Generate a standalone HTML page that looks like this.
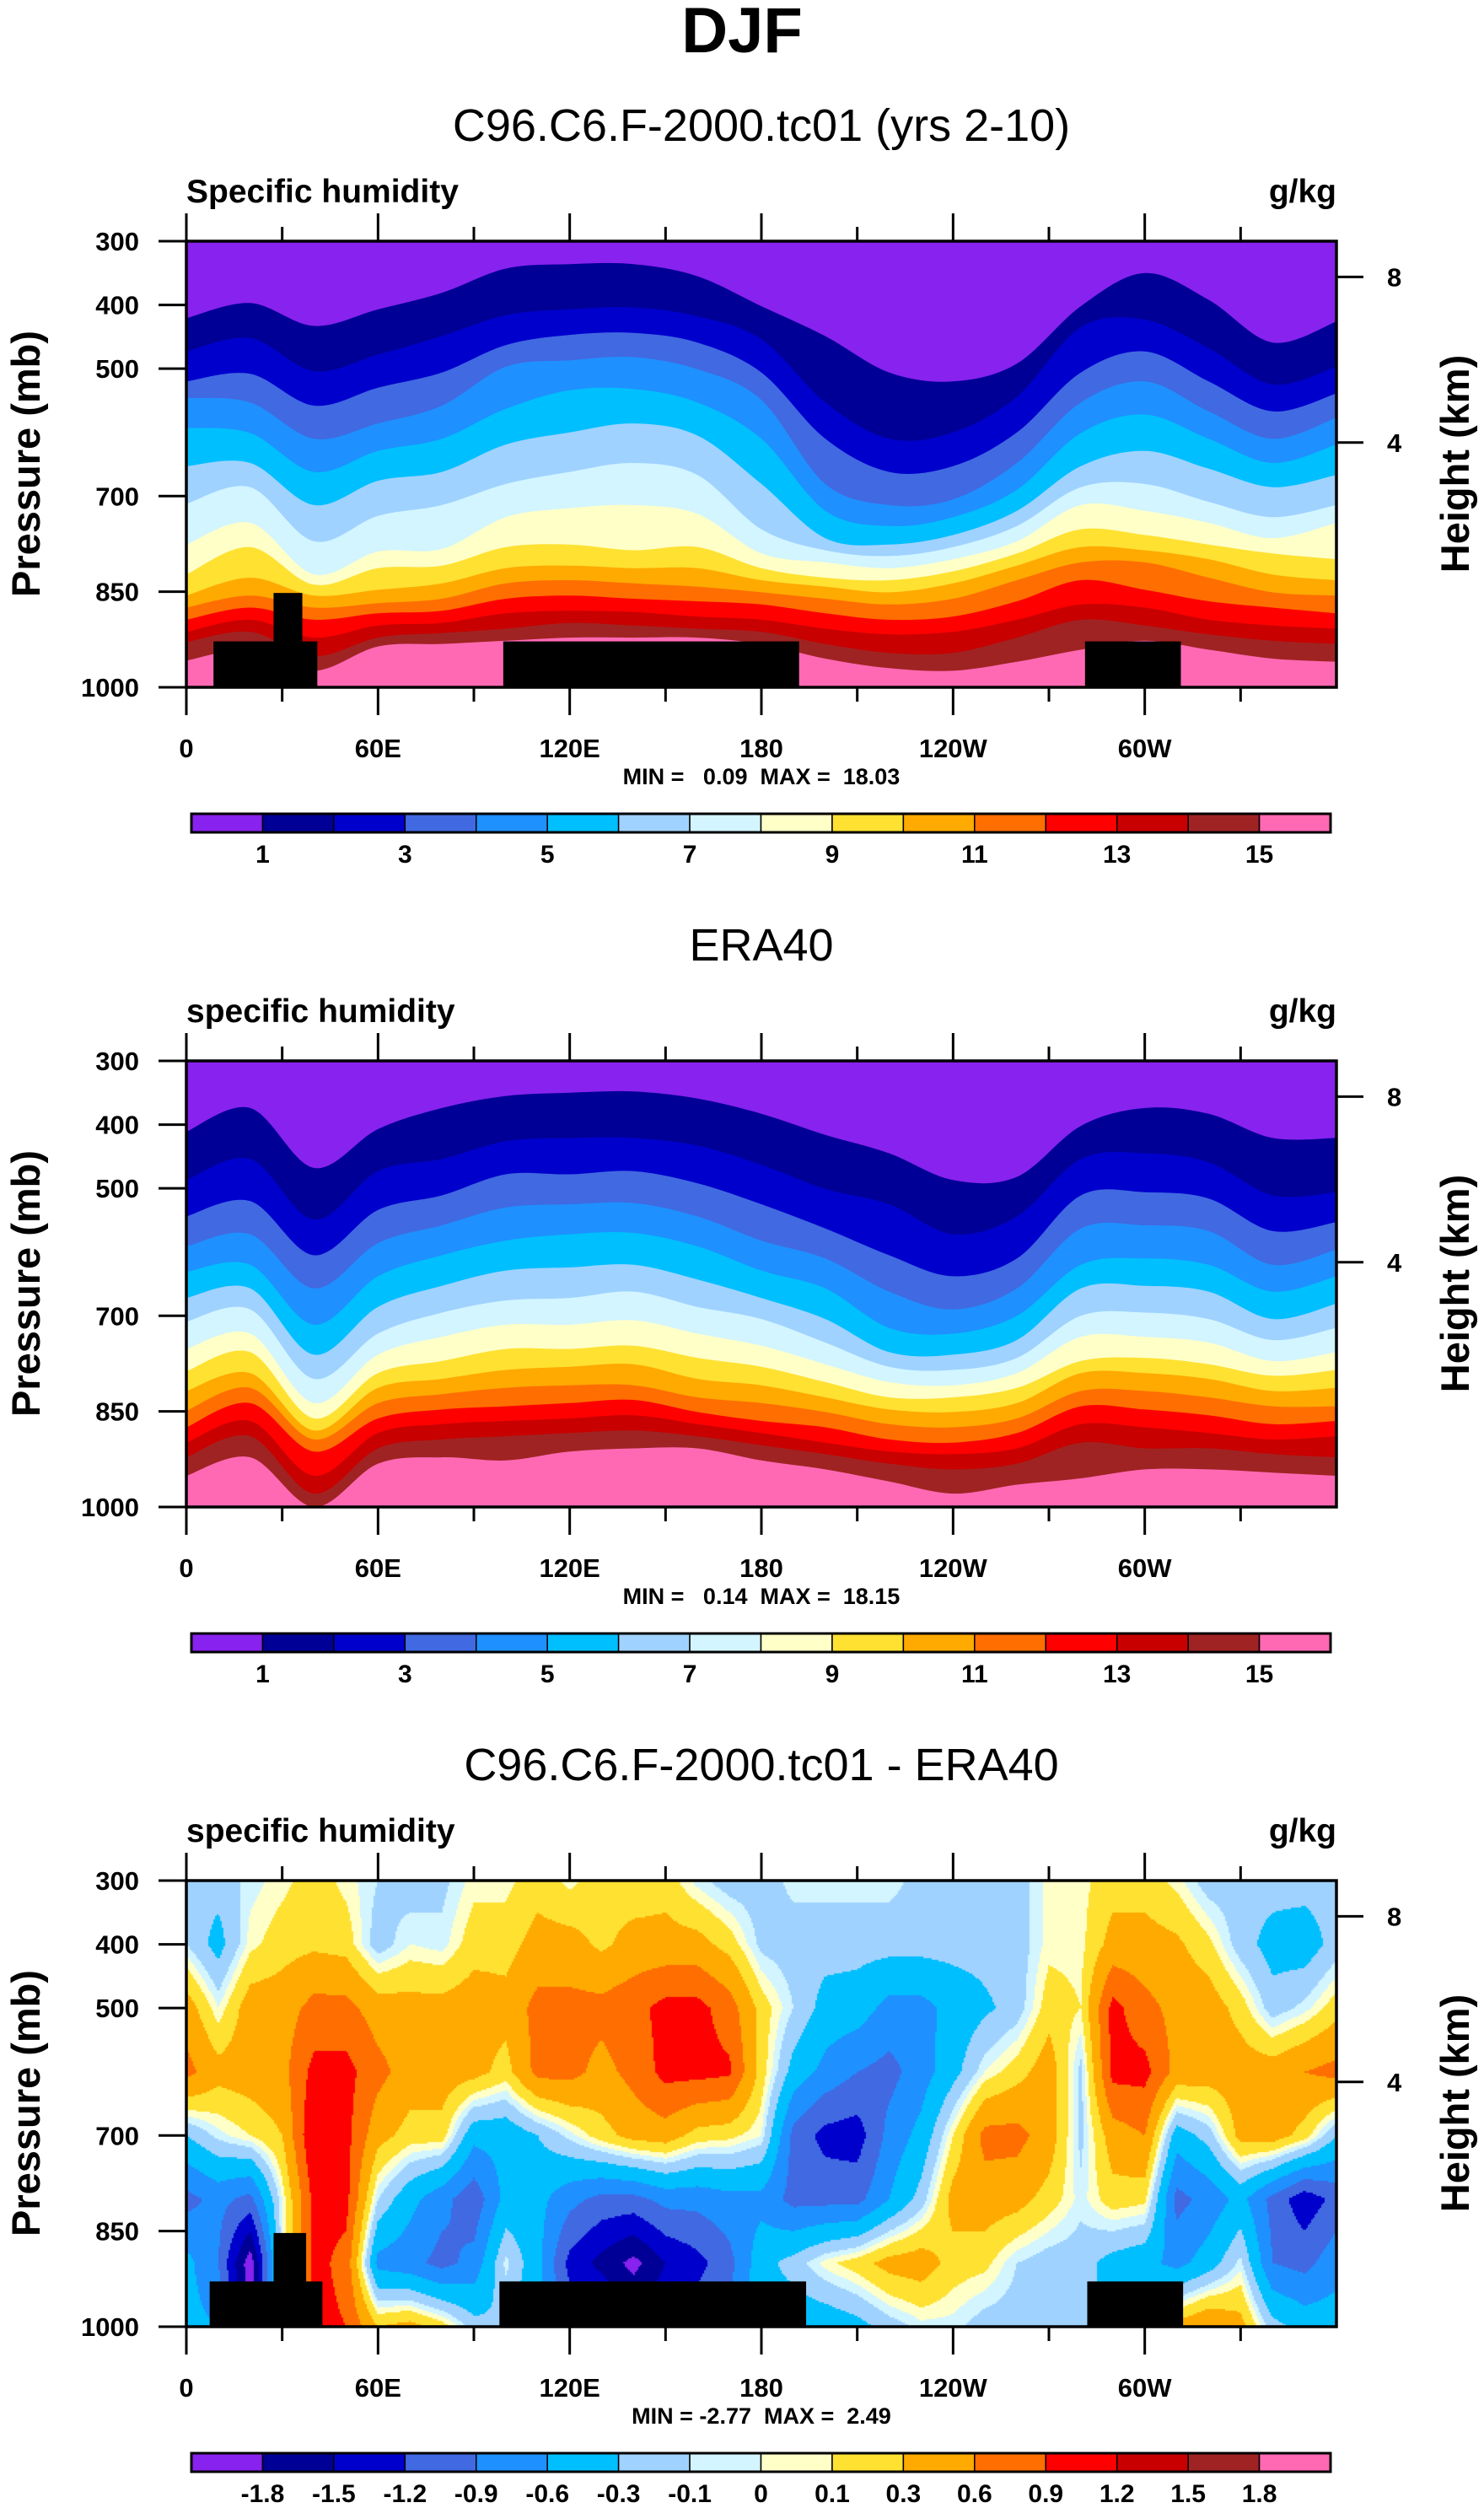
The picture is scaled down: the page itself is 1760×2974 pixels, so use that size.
<!DOCTYPE html>
<html><head><meta charset="utf-8"><title>DJF specific humidity</title>
<style>
html,body{margin:0;padding:0;background:#fff;}
#wrap{position:relative;width:1760px;height:2974px;overflow:hidden;font-family:"Liberation Sans",Arial,sans-serif;}
#diffCanvas{position:absolute;left:221px;top:2230px;}
#main{position:absolute;left:0;top:0;}
text{font-family:"Liberation Sans",Arial,sans-serif;white-space:pre;}
</style></head>
<body>
<div id="wrap">
<canvas id="diffCanvas" width="1364" height="529"></canvas>
<svg id="main" width="1760" height="2974" xmlns="http://www.w3.org/2000/svg">
<text x="880" y="62" font-size="76" font-weight="bold" text-anchor="middle">DJF</text>
</svg>
</div>
<script>
// ---------- shared data ----------
const lons = [0,20,40,60,80,100,120,140,160,180,200,220,240,260,280,300,320,340,360];
const qLevels = [1,2,3,4,5,6,7,8,9,10,11,12,13,14,15];
const qTickLabels = ["1","3","5","7","9","11","13","15"];
const diffLevels = [-1.8,-1.5,-1.2,-0.9,-0.6,-0.3,-0.1,0,0.1,0.3,0.6,0.9,1.2,1.5,1.8];
const diffTickLabels = ["-1.8","-1.5","-1.2","-0.9","-0.6","-0.3","-0.1","0","0.1","0.3","0.6","0.9","1.2","1.5","1.8"];
const xTickLons = [0,60,120,180,240,300];
const xTickLabels = ["0","60E","120E","180","120W","60W"];
const pTicks = [300,400,500,700,850,1000];
const pTickLabels = ["300","400","500","700","850","1000"];
const heightTickP = [356,616];
const heightTickLabels = ["8","4"];

// model (C96) pressure (mb) of each q contour 1..15 at each longitude
const ctl000=[421,473,520,546,593,653,712,776,823,856,875,894,913,929,958];
const ctl020=[397,452,508,553,601,648,686,742,780,828,856,875,894,913,941];
const ctl040=[433,504,558,610,662,714,771,823,839,856,875,894,922,951,974];
const ctl060=[407,478,530,586,629,676,731,787,813,847,868,884,903,922,936];
const ctl080=[381,449,506,558,610,662,714,783,809,837,861,880,899,915,932];
const ctl100=[343,416,463,497,563,619,681,733,780,813,837,861,884,908,927];
const ctl120=[336,407,447,487,534,600,662,719,776,809,832,856,880,899,922];
const ctl140=[336,404,444,482,532,586,648,714,785,813,837,861,882,903,922];
const ctl160=[355,418,459,501,553,605,667,728,780,813,842,865,889,908,922];
const ctl180=[402,454,506,549,610,681,752,790,813,832,851,870,894,913,932];
const ctl200=[449,553,610,681,723,766,785,804,828,842,861,884,908,932,955];
const ctl220=[506,610,662,714,747,776,794,813,832,851,870,894,917,946,970];
const ctl240=[520,600,653,705,733,761,780,799,818,837,861,889,913,946,974];
const ctl260=[492,544,600,648,690,723,747,771,790,809,832,865,894,922,960];
const ctl280=[402,435,506,553,601,653,686,714,752,780,804,832,870,894,941];
const ctl300=[350,423,473,520,572,629,681,723,761,785,804,847,875,903,927];
const ctl320=[392,468,520,567,610,657,709,742,776,799,828,865,894,917,941];
const ctl340=[459,525,567,610,648,686,733,766,790,823,851,875,903,927,955];
const ctl360=[426,497,539,577,619,667,714,742,799,832,856,884,908,932,960];

// ERA40 pressure (mb) of each q contour 1..15 at each longitude
const era000=[411,487,544,591,631,672,709,752,787,818,849,875,899,922,951];
const era020=[374,454,520,572,620,657,690,728,757,790,813,837,865,889,922];
const era040=[468,549,605,657,714,761,799,837,861,880,894,913,951,979,1003];
const era060=[407,473,534,586,638,686,728,761,790,813,837,861,884,908,932];
const era080=[374,454,511,558,605,653,695,733,771,799,823,847,870,894,922];
const era100=[355,426,478,530,582,629,676,714,752,785,813,842,865,889,927];
const era120=[350,421,478,525,572,624,672,714,752,780,809,837,861,884,913];
const era140=[348,421,473,523,570,620,662,707,747,776,809,832,856,880,908];
const era160=[359,433,492,544,591,643,686,728,766,799,828,851,870,889,908];
const era180=[383,463,525,582,629,672,705,747,780,809,837,865,884,903,927];
const era200=[416,501,563,610,657,705,742,776,804,828,851,875,899,917,941];
const era220=[445,525,605,662,719,757,780,804,828,847,870,894,913,932,960];
const era240=[487,572,638,690,728,761,785,809,828,851,875,899,917,941,979];
const era260=[482,544,610,657,700,738,766,790,813,837,861,884,908,932,965];
const era280=[402,454,511,563,620,657,700,733,771,790,818,842,870,899,955];
const era300=[374,445,506,558,610,653,695,733,766,790,818,847,875,908,941];
const era320=[383,459,516,567,620,662,705,742,776,799,828,856,884,908,941];
const era340=[421,511,567,620,662,705,738,771,794,818,842,870,894,917,946];
const era360=[421,506,553,596,638,681,719,757,785,813,842,865,889,922,951];

// difference field (g/kg): rows by pressure, columns every 10 deg lon
const diffPress = [300,400,500,600,700,800,900,1000];
const diffLons = [0,10,20,30,40,50,60,70,80,90,100,110,120,130,140,150,160,170,180,190,200,210,220,230,240,250,260,270,280,290,300,310,320,330,340,350,360];
const diff300=[-0.2,-0.2,-0.05,0.05,0.2,0.05,-0.1,-0.2,-0.15,0.05,0.05,0.2,0.05,0.2,0.15,0.2,-0.05,-0.2,-0.2,-0.05,-0.05,-0.05,-0.05,-0.15,-0.2,-0.2,-0.2,0.05,0.05,0.2,0.2,0.05,-0.2,-0.2,-0.2,-0.2,-0.2];
const diff400=[-0.1,-0.4,0.05,0.2,0.25,0.2,-0.2,0.0,-0.05,0.2,0.2,0.4,0.4,0.25,0.4,0.4,0.4,0.2,-0.15,-0.2,-0.2,-0.2,-0.2,-0.2,-0.2,-0.2,-0.2,0.05,0.05,0.4,0.4,0.35,0.15,-0.2,-0.4,-0.45,-0.2];
const diff500=[0.45,0.0,0.45,0.45,0.7,0.7,0.45,0.4,0.4,0.45,0.4,0.7,0.7,0.7,0.8,1.0,1.0,0.75,0.2,-0.1,-0.4,-0.45,-0.7,-0.7,-0.5,-0.35,-0.2,0.2,0.1,1.0,0.7,0.5,0.45,0.2,-0.2,-0.05,0.2];
const diff600=[0.7,0.4,0.45,0.5,1.0,1.0,0.7,0.45,0.45,0.4,0.2,0.7,0.7,0.5,0.7,1.0,1.0,0.95,0.2,-0.4,-0.7,-0.9,-1.0,-0.75,-0.4,0.0,0.2,0.45,-0.15,1.0,1.0,0.5,0.45,0.45,0.45,0.6,0.7];
const diff700=[-0.3,-0.05,0.1,0.3,1.2,1.0,0.4,0.2,0.2,-0.5,-0.5,-0.3,-0.05,0.2,0.4,0.45,0.2,0.15,0.0,-1.0,-1.3,-1.35,-0.8,-0.5,0.1,0.7,0.7,0.45,-0.15,0.45,0.6,-0.45,-0.2,0.4,0.45,0.2,-0.3];
const diff800=[-1.0,-0.8,-1.0,0.0,1.0,1.0,-0.1,-0.5,-0.8,-1.1,-0.5,-0.5,-0.8,-1.0,-1.0,-0.8,-0.8,-0.7,-0.7,-1.0,-1.0,-1.0,-0.6,-0.2,0.4,0.45,0.4,0.2,-0.05,0.2,0.15,-1.0,-0.8,-0.5,-1.0,-1.4,-1.1];
const diff900=[-0.5,-0.9,-2.0,0.0,1.0,0.8,-0.7,-0.8,-1.0,-0.8,-0.05,-0.5,-1.3,-1.6,-1.9,-1.5,-1.3,-1.0,-0.4,-0.2,0.05,0.2,0.4,0.45,0.2,0.15,-0.1,-0.2,-0.2,-0.4,-0.5,-0.7,-0.45,-0.05,-0.9,-1.0,-0.7];
const diff1000=[-0.5,-0.6,-2.0,0.0,1.0,0.9,0.3,0.4,0.2,-0.2,-0.3,-0.5,-1.0,-1.0,-1.4,-1.2,-1.0,-0.8,-0.4,-0.5,-0.5,-0.4,-0.2,-0.05,-0.05,-0.2,-0.2,-0.2,-0.2,-0.4,-0.3,0.4,0.6,0.4,-0.2,-0.4,-0.45];

// topography masks: [lonStart, lonEnd, topPressure]
const topoModel = [[8.5,41,928],[27.3,36.3,852],[99.2,191.8,928],[281.3,311.3,928]];
const topoDiff = [[7.3,42.6,929],[27.3,37.5,853],[98,194,929],[282,312,929]];

// ---------- styling / geometry ----------
const colors16 = ["#8822ee","#000096","#0000cd","#4169e1","#1e90ff","#00bfff","#a0d2ff","#d2f5ff","#ffffc8","#ffe132","#ffaa00","#ff6e00","#ff0000","#c80000","#a02323","#ff69b4"];
const PL=221, PR=1585, PH=529;
const panelTops=[286,1258,2230];
function xS(lon){return PL+lon*(PR-PL)/360;}
function yS(p,T){return T+(p-300)*PH/700;}
const svg=document.getElementById('main');
const NS="http://www.w3.org/2000/svg";
function el(tag){const e=document.createElementNS(NS,tag);svg.appendChild(e);return e;}
function txt(s,x,y,size,anchor,weight){const t=el('text');t.setAttribute('x',x);t.setAttribute('y',y);t.setAttribute('font-size',size);t.setAttribute('text-anchor',anchor||'start');t.setAttribute('font-weight',weight||'bold');t.textContent=s;return t;}

function smoothPath(pts){
  let d='';
  for(let i=0;i<pts.length-1;i++){
    const p0=pts[Math.max(0,i-1)],p1=pts[i],p2=pts[i+1],p3=pts[Math.min(pts.length-1,i+2)];
    const c1x=p1[0]+(p2[0]-p0[0])/6,c1y=p1[1]+(p2[1]-p0[1])/6;
    const c2x=p2[0]-(p3[0]-p1[0])/6,c2y=p2[1]-(p3[1]-p1[1])/6;
    d+=' C'+c1x.toFixed(1)+','+c1y.toFixed(1)+' '+c2x.toFixed(1)+','+c2y.toFixed(1)+' '+p2[0].toFixed(1)+','+p2[1].toFixed(1);
  }
  return d;
}

function drawContourPanel(T,profiles,prefix){
  const bg=el('rect');
  
  
  bg.setAttribute('x',PL);bg.setAttribute('y',T);bg.setAttribute('width',PR-PL);bg.setAttribute('height',PH);bg.setAttribute('fill',colors16[15]);
  for(let k=qLevels.length-1;k>=0;k--){
    const pts=lons.map((lon,i)=>[xS(lon),yS(Math.min(1000,profiles[i][k]),T)]);
    let d='M'+xS(0)+','+yS(300,T)+' L'+pts[0][0].toFixed(1)+','+pts[0][1].toFixed(1);
    d+=smoothPath(pts);
    d+=' L'+xS(360)+','+yS(300,T)+' Z';
    const path=el('path');
    
    
    path.setAttribute('d',d);path.setAttribute('fill',colors16[k]);
  }
}

function drawTopo(T,boxes,prefix){
  boxes.forEach((b,i)=>{
    const r=el('rect');
    
    
    r.setAttribute('x',xS(b[0]));r.setAttribute('y',yS(b[2],T));
    r.setAttribute('width',xS(b[1])-xS(b[0]));r.setAttribute('height',yS(1000,T)-yS(b[2],T));r.setAttribute('fill','#000');
  });
}

function drawAxes(T,title,left,minmax,prefix){
  const fr=el('rect');
  
  
  fr.setAttribute('x',PL);fr.setAttribute('y',T);fr.setAttribute('width',PR-PL);fr.setAttribute('height',PH);
  fr.setAttribute('fill','none');fr.setAttribute('stroke','#000');fr.setAttribute('stroke-width','3.5');
  const tt=txt(title,903,T-119,54,'middle','normal');
  
  
  const lt=txt(left,PL,T-46,39,'start','bold');
  
  
  const ut=txt('g/kg',PR,T-46,39,'end','bold');
  
  
  for(let lon=0;lon<=330;lon+=30){
    const major=lon%60===0;const len=major?33:17;const x=xS(lon);
    const t1=el('line');
    
    
    t1.setAttribute('x1',x);t1.setAttribute('x2',x);t1.setAttribute('y1',T);t1.setAttribute('y2',T-len);t1.setAttribute('stroke','#000');t1.setAttribute('stroke-width','3');
    const t2=el('line');
    
    
    t2.setAttribute('x1',x);t2.setAttribute('x2',x);t2.setAttribute('y1',T+PH);t2.setAttribute('y2',T+PH+len);t2.setAttribute('stroke','#000');t2.setAttribute('stroke-width','3');
  }
  xTickLons.forEach((lon,i)=>{
    const l=txt(xTickLabels[i],xS(lon),T+612,31,'middle','bold');
    
    
  });
  pTicks.forEach((p,i)=>{
    const y=yS(p,T);
    const tk=el('line');
    
    
    tk.setAttribute('x1',PL);tk.setAttribute('x2',PL-33);tk.setAttribute('y1',y);tk.setAttribute('y2',y);tk.setAttribute('stroke','#000');tk.setAttribute('stroke-width','3');
    const l=txt(pTickLabels[i],165,y+11,31,'end','bold');
    
    
  });
  heightTickP.forEach((p,i)=>{
    const y=yS(p,T);
    const tk=el('line');
    
    
    tk.setAttribute('x1',PR);tk.setAttribute('x2',PR+32);tk.setAttribute('y1',y);tk.setAttribute('y2',y);tk.setAttribute('stroke','#000');tk.setAttribute('stroke-width','3');
    const l=txt(heightTickLabels[i],1645,y+11,31,'start','bold');
    
    
  });
  const yl=txt('Pressure (mb)',0,0,47,'middle','bold');
  
  
  yl.setAttribute('transform','translate(47,'+(T+264)+') rotate(-90)');
  const hl=txt('Height (km)',0,0,47,'middle','bold');
  
  
  hl.setAttribute('transform','translate(1742,'+(T+264)+') rotate(-90)');
  const mm=txt(minmax,903,T+644,27,'middle','bold');
  
  
}

function drawColorbar(T,labels,prefix){
  const x0=227,x1=1578,w=(x1-x0)/16,y=T+679,h=22;
  for(let i=0;i<16;i++){
    const r=el('rect');
    
    
    r.setAttribute('x',x0+i*w);r.setAttribute('y',y);r.setAttribute('width',w);r.setAttribute('height',h);
    r.setAttribute('fill',colors16[i]);r.setAttribute('stroke','#000');r.setAttribute('stroke-width','1.5');
  }
  const fr=el('rect');
  
  
  fr.setAttribute('x',x0);fr.setAttribute('y',y);fr.setAttribute('width',x1-x0);fr.setAttribute('height',h);fr.setAttribute('fill','none');fr.setAttribute('stroke','#000');fr.setAttribute('stroke-width','3');
  const step=labels.length===8?2:1;
  labels.forEach((s,i)=>{
    const bx=x0+w*(1+i*step);
    const l=txt(s,bx,T+737,30,'middle','bold');
    
    
  });
}

// panel 1
const ctlProfiles=[ctl000,ctl020,ctl040,ctl060,ctl080,ctl100,ctl120,ctl140,ctl160,ctl180,ctl200,ctl220,ctl240,ctl260,ctl280,ctl300,ctl320,ctl340,ctl360];
drawContourPanel(panelTops[0],ctlProfiles,'model');
drawTopo(panelTops[0],topoModel,'model');
drawAxes(panelTops[0],'C96.C6.F-2000.tc01 (yrs 2-10)','Specific humidity','MIN =   0.09  MAX =  18.03','model');
drawColorbar(panelTops[0],qTickLabels,'model');

// panel 2
const eraProfiles=[era000,era020,era040,era060,era080,era100,era120,era140,era160,era180,era200,era220,era240,era260,era280,era300,era320,era340,era360];
drawContourPanel(panelTops[1],eraProfiles,'era40');
drawAxes(panelTops[1],'ERA40','specific humidity','MIN =   0.14  MAX =  18.15','era40');
drawColorbar(panelTops[1],qTickLabels,'era40');

// panel 3 (canvas field)
const diffRows=[diff300,diff400,diff500,diff600,diff700,diff800,diff900,diff1000];
(function(){
  const cv=document.getElementById('diffCanvas');const ctx=cv.getContext('2d');
  const W=cv.width,H=cv.height;const st=2;
  for(let py=0;py<H;py+=st){
    const p=300+(py+st/2)*700/H;
    let r=0;while(r<diffPress.length-2&&p>diffPress[r+1])r++;
    const fy=Math.min(1,Math.max(0,(p-diffPress[r])/(diffPress[r+1]-diffPress[r])));
    for(let px=0;px<W;px+=st){
      const lon=(px+st/2)*360/W;
      let c=Math.min(diffLons.length-2,Math.floor(lon/10));
      const fx=(lon-diffLons[c])/10;
      const v=(diffRows[r][c]*(1-fx)+diffRows[r][c+1]*fx)*(1-fy)+(diffRows[r+1][c]*(1-fx)+diffRows[r+1][c+1]*fx)*fy;
      let k=0;while(k<diffLevels.length&&v>=diffLevels[k])k++;
      ctx.fillStyle=colors16[k];ctx.fillRect(px,py,st,st);
    }
  }
})();
drawTopo(panelTops[2],topoDiff,'difference');
drawAxes(panelTops[2],'C96.C6.F-2000.tc01 - ERA40','specific humidity','MIN = -2.77  MAX =  2.49','difference');
drawColorbar(panelTops[2],diffTickLabels,'difference');
</script>
</body></html>
